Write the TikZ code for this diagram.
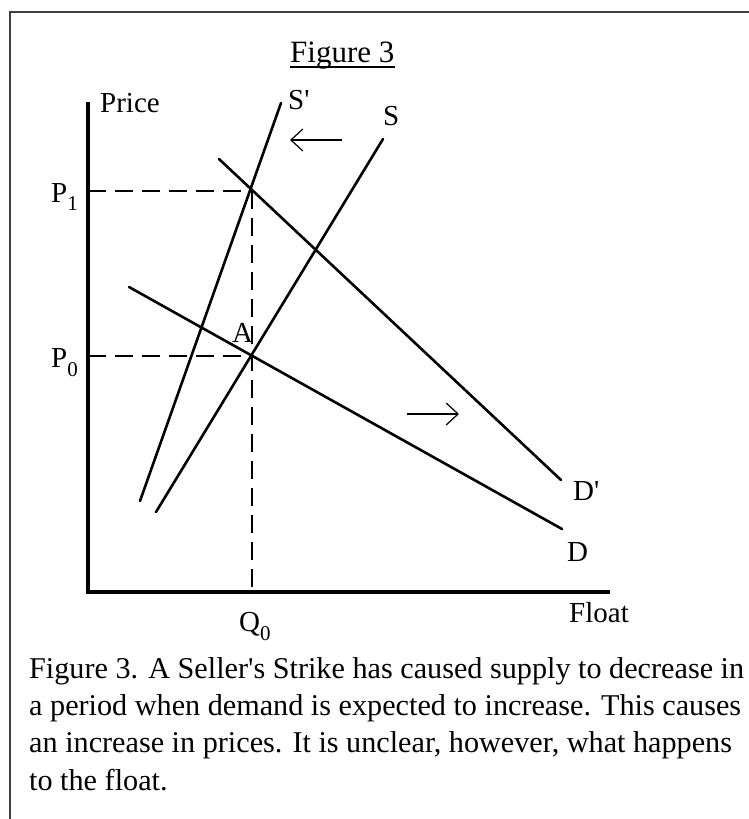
\documentclass[tikz,border=0pt]{standalone}
\usepackage{fontspec}
\setmainfont{Liberation Serif}
\usetikzlibrary{arrows.meta}
\begin{document}
\begin{tikzpicture}[x=1pt,y=-1pt,
  axis/.style={line width=3.5pt},
  curve/.style={line width=2.6pt, line cap=round},
  guide/.style={line width=1.6pt, dash pattern=on 18pt off 9pt},
  shiftarrow/.style={line width=1.2pt, -{Straight Barb[length=12pt,width=22pt,line width=1.2pt]}},
  lbl/.style={font=\fontsize{29}{29}\selectfont, inner sep=0pt, anchor=base west},
  captext/.style={font=\fontsize{30.2}{37}\selectfont, inner sep=0pt, anchor=base west},
  frameline/.style={line width=1.6pt, black!75}]
\useasboundingbox (0,0) rectangle (749,819);
\fill[white] (0,0) rectangle (749,819);
% frame
\coordinate (fr1) at (749,12);
\coordinate (fr2) at (10,12);
\coordinate (fr3) at (10,819);
\draw[frameline] (fr1) -- (fr2) -- (fr3);
% title
\node[lbl, font=\fontsize{31}{31}\selectfont] (title) at (290,62) {Figure 3};
\draw[line width=1.4pt] ([yshift=-5pt]title.base west) -- ([yshift=-5pt]title.base east);
% axes
\coordinate (ytop) at (88,102);
\coordinate (orig) at (88,592);
\coordinate (xend) at (610,592);
\draw[axis] (ytop) -- (orig) -- (xend);
% curves
\coordinate (Spb) at (140,501);
\coordinate (Spt) at (281,103);
\coordinate (Sb) at (156,512);
\coordinate (St) at (383,139);
\coordinate (Dpt) at (219,159);
\coordinate (Dpb) at (561,480);
\coordinate (Dt) at (129,287);
\coordinate (Db) at (562,529);
\draw[curve] (Spb) -- (Spt);
\draw[curve] (Sb) -- (St);
\draw[curve] (Dpt) -- (Dpb);
\draw[curve] (Dt) -- (Db);
% guides
\coordinate (E1) at (252,191);
\coordinate (E0) at (252,356);
\coordinate (P1a) at (88,191);
\coordinate (P0a) at (88,356);
\coordinate (Qa) at (252,592);
\draw[guide] (P1a) -- (E1);
\draw[guide] (P0a) -- (E0);
\draw[guide] (E1) -- (Qa);
% shift arrows
\coordinate (la1) at (342,140);
\coordinate (la2) at (290,140);
\coordinate (ra1) at (407,414);
\coordinate (ra2) at (459,414);
\draw[shiftarrow] (la1) -- (la2);
\draw[shiftarrow] (ra1) -- (ra2);
% labels
\node[lbl] (price) at (100,112) {Price};
\node[lbl] (sp) at (288,109) {S\textquotesingle};
\node[lbl] (s) at (383,125) {S};
\node[lbl] (dp) at (573,500) {D\textquotesingle};
\node[lbl] (d) at (567,561) {D};
\node[lbl] (float) at (569,622) {Float};
\node[lbl] (a) at (232,342) {A};
\node[lbl] (p1) at (51,202) {P\raisebox{-8pt}{\fontsize{21}{21}\selectfont 1}};
\node[lbl] (p0) at (51,367) {P\raisebox{-9pt}{\fontsize{21}{21}\selectfont 0}};
\node[lbl] (q0) at (239,631) {Q\raisebox{-9pt}{\fontsize{21}{21}\selectfont 0}};
% caption
\node[captext] (c1) at (29,678) {Figure 3. A Seller\textquotesingle s Strike has caused supply to decrease in};
\node[captext] (c2) at (29,715) {a period when demand is expected to increase. This causes};
\node[captext] (c3) at (29,752) {an increase in prices. It is unclear, however, what happens};
\node[captext] (c4) at (29,790) {to the float.};
\end{tikzpicture}
\end{document}
